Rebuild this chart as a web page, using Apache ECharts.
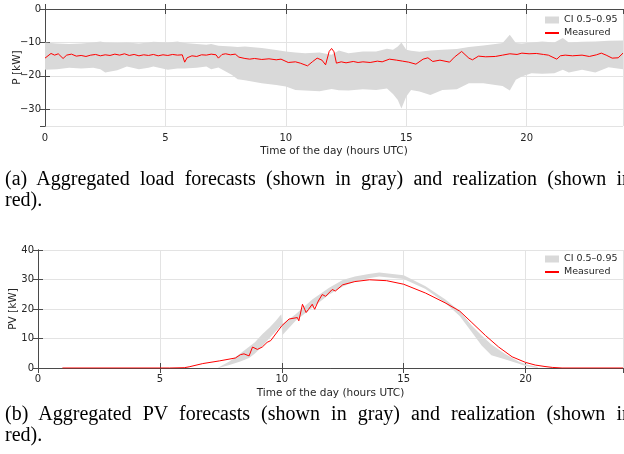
<!DOCTYPE html>
<html>
<head>
<meta charset="utf-8">
<script src="https://cdn.jsdelivr.net/npm/echarts@6/dist/echarts.min.js"></script>
<style>
html, body { margin: 0; padding: 0; background: #fff; }
#wrap { position: relative; width: 624px; height: 454px; overflow: hidden; }
#chart { position: absolute; left: 0; top: 0; width: 624px; height: 454px; }
.cap { position: absolute; left: 5px; width: 627px; font-family: "Liberation Serif", serif; font-size: 20px; line-height: 21px; color: #000; }
.cap .l1 { text-align: justify; text-align-last: justify; }
</style>
</head>
<body>
<div id="wrap">
  <div id="chart"></div>
  <div class="cap" style="top:168px">
    <div class="l1">(a) Aggregated load forecasts (shown in gray) and realization (shown in</div>
    <div>red).</div>
  </div>
  <div class="cap" style="top:403px">
    <div class="l1">(b) Aggregated PV forecasts (shown in gray) and realization (shown in</div>
    <div>red).</div>
  </div>
</div>
<script>
// load chart (kW, negative = consumption)
var loadBandHours = [0, 0.5, 1, 1.5, 2, 2.3, 2.5, 3, 3.4, 3.9, 4.3, 4.5, 5.1, 5.5, 5.8, 6.3, 6.7, 6.9, 7.2, 7.75,
    8, 8.3, 9, 9.6, 10, 10.4, 10.8, 11.4, 11.9, 12.2, 12.6, 13.2, 13.75, 14.2, 14.45, 14.65, 14.8, 15, 15.2, 15.55,
    16, 16.5, 17.1, 17.6, 18.2, 18.7, 19, 19.3, 19.55, 19.8, 20.2, 20.65, 21.15, 21.5, 21.75, 22.3, 22.85, 23.4, 24];
var loadUpper = [-10.0, -10.3, -10.5, -10.3, -10.0, -9.7, -10.0, -10.2, -10.0, -10.3, -10.0, -9.8, -10.0, -9.7, -10.2,
    -10.5, -10.7, -10.5, -11.0, -11.2, -11.4, -11.2, -11.7, -12.3, -12.7, -13.0, -13.2, -13.0, -13.7, -12.4,
    -13.2, -12.7, -12.7, -11.9, -12.2, -11.2, -10.0, -12.2, -12.5, -12.8, -12.4, -12.2, -12.0, -11.4, -10.9,
    -10.5, -10.2, -7.7, -10.2, -10.3, -10.0, -9.7, -10.0, -8.7, -10.0, -9.8, -9.7, -9.5, -9.4];
var loadLower = [-18.2, -18.0, -17.6, -17.8, -17.6, -18.0, -19.0, -18.3, -17.2, -18.0, -17.6, -17.2, -18.2, -17.8, -17.8,
    -17.6, -17.2, -18.0, -17.5, -19.7, -21.0, -21.3, -22.2, -22.7, -23.2, -24.2, -24.4, -24.6, -23.9, -24.3,
    -24.4, -24.0, -24.2, -23.8, -25.4, -27.2, -29.8, -26.2, -24.2, -24.7, -25.7, -24.2, -24.0, -22.2, -22.2,
    -22.7, -23.0, -24.4, -21.2, -20.2, -19.2, -19.4, -19.2, -18.2, -19.0, -18.2, -19.0, -17.4, -18.0];
var loadHours = [0, 0.25, 0.4, 0.55, 0.75, 0.9, 1.1, 1.3, 1.5, 1.7, 1.9, 2.1, 2.3, 2.5, 2.7, 2.9, 3.1, 3.3, 3.5, 3.7,
    3.9, 4.1, 4.3, 4.5, 4.7, 4.9, 5.1, 5.3, 5.5, 5.7, 5.8, 5.9, 6.1, 6.3, 6.5, 6.7, 6.9, 7.1, 7.2, 7.35,
    7.5, 7.7, 7.9, 8.05, 8.3, 8.5, 8.7, 9, 9.3, 9.6, 9.8, 10.1, 10.4, 10.6, 10.9, 11.1, 11.3, 11.5, 11.65, 11.8,
    11.9, 12, 12.1, 12.3, 12.5, 12.8, 13, 13.2, 13.5, 13.8, 14, 14.3, 14.6, 14.85, 15.1, 15.4, 15.7, 15.9, 16.1, 16.4,
    16.8, 17, 17.3, 17.6, 17.75, 18, 18.3, 18.7, 19, 19.3, 19.6, 19.8, 20.1, 20.4, 20.7, 20.9, 21.25, 21.4, 21.6, 21.9,
    22.3, 22.6, 22.9, 23.1, 23.3, 23.55, 23.8, 24];
var loadMeasured = [-14.7, -13.3, -13.8, -13.4, -14.8, -13.8, -13.5, -14.1, -13.9, -14.2, -13.8, -13.6, -14.0, -13.7, -13.9,
    -13.5, -13.8, -13.4, -13.9, -13.6, -14.0, -13.7, -13.9, -13.6, -14.0, -13.7, -13.9, -13.6, -13.8, -13.7,
    -15.9, -14.6, -14.0, -14.2, -13.7, -13.8, -13.5, -13.7, -14.7, -13.6, -13.4, -13.7, -13.5, -14.4, -14.8,
    -15.0, -14.8, -15.1, -14.9, -15.2, -15.0, -16.0, -15.8, -16.2, -17.0, -15.8, -14.7, -15.3, -16.7, -12.7,
    -11.8, -12.8, -16.2, -15.8, -16.1, -15.7, -16.0, -15.8, -16.0, -15.6, -15.8, -15.0, -15.3, -15.6, -15.9,
    -16.5, -15.0, -14.6, -15.7, -15.3, -15.9, -14.4, -12.7, -14.7, -15.2, -14.1, -14.3, -14.2, -13.8, -13.4,
    -13.6, -13.2, -13.4, -13.3, -13.6, -13.8, -15.0, -14.0, -13.8, -14.0, -13.8, -14.2, -13.7, -13.2, -13.8,
    -14.7, -14.6, -13.2];

// PV chart
var pvBandHours = [7.4, 7.85, 8.3, 8.66, 8.9, 9.2, 9.5, 9.75, 9.98, 10.03, 10.57, 11.25, 11.93, 12.5, 13, 13.57, 14,
    15, 15.9, 16.7, 17.3, 17.8, 18.2, 18.6, 19.15, 19.7, 20, 20.5];
var pvUpper = [0.2, 2.2, 4.9, 7.2, 8.7, 11.4, 13.7, 15.9, 18.2, 14.8, 18.2, 23.2, 27.1, 29.8, 31.0, 31.9, 32.4,
    31.4, 27.7, 23.3, 19.3, 14.3, 11.0, 8.0, 4.8, 2.3, 1.3, 0.3];
var pvLower = [0, 1.0, 2.2, 3.4, 4.9, 7.4, 10.2, 12.4, 14.4, 11.2, 16.0, 20.4, 24.8, 27.6, 29.3, 30.4, 31.0,
    30.2, 26.8, 22.1, 17.6, 12.1, 7.6, 4.3, 3.0, 1.5, 0.7, 0];
var pvHours = [1, 5.4, 6, 6.2, 6.76, 7.44, 8.1, 8.3, 8.45, 8.66, 8.8, 9, 9.2, 9.4, 9.55, 10, 10.3, 10.64, 10.7, 10.85,
    11, 11.1, 11.25, 11.35, 11.5, 11.66, 11.8, 12.07, 12.2, 12.5, 13, 13.6, 14.3, 15, 15.9, 16.7, 17.3, 17.8, 18.36, 18.9,
    19.45, 20, 20.4, 20.8, 21.1, 21.5, 24];
var pvMeasured = [0, 0, 0.1, 0.4, 1.5, 2.4, 3.4, 4.5, 4.8, 4.1, 7.1, 6.3, 7.1, 8.7, 9.3, 14.3, 16.6, 17.1, 16.0, 21.6,
    18.8, 19.9, 21.6, 19.9, 22.7, 24.9, 24.3, 26.6, 26.1, 28.2, 29.3, 29.9, 29.6, 28.4, 25.4, 22.1, 19.3, 15.4, 11.0, 7.1,
    3.8, 1.9, 1.0, 0.5, 0.2, 0, 0];

var ciName = "CI 0.5\u20130.95";
var font = "DejaVu Sans";
var textColor = "#262626";
var axisColor = "#4a4a4a";
var gridColor = "#e3e3e3";
var bandColor = "#d9d9d9";

function pairs(xs, ys) {
    return xs.map(function (x, i) { return [x, ys[i]]; });
}
function minusFmt(v) {
    return String(v).replace("-", "\u2212");
}

function xAxes(gridIndex, labelMargin) {
    return [
        {
            type: "value", gridIndex: gridIndex, position: "bottom", min: 0, max: 24, interval: 5,
            name: "Time of the day (hours UTC)", nameLocation: "middle", nameGap: 20, nameMoveOverlap: false,
            nameTextStyle: { fontFamily: font, fontSize: 10.5, color: textColor },
            axisLine: { lineStyle: { color: axisColor } },
            axisTick: { inside: true, length: 5, lineStyle: { color: axisColor } },
            axisLabel: { margin: labelMargin, fontFamily: font, fontSize: 10, color: textColor, showMaxLabel: false },
            splitLine: { show: true, lineStyle: { color: gridColor } },
        },
        {
            type: "value", gridIndex: gridIndex, position: "top", min: 0, max: 24, interval: 5,
            axisLine: { lineStyle: { color: axisColor } },
            axisTick: { inside: true, length: 5, lineStyle: { color: axisColor } },
            axisLabel: { show: false },
            splitLine: { show: false },
        },
    ];
}

function yAxes(gridIndex, cfg) {
    return [
        {
            type: "value", gridIndex: gridIndex, position: "left", min: cfg.min, max: cfg.max,
            interval: cfg.interval, splitNumber: cfg.splitNumber,
            name: cfg.name, nameLocation: "middle", nameGap: cfg.nameGap, nameMoveOverlap: false,
            nameTextStyle: { fontFamily: font, fontSize: 10.5, color: textColor },
            axisLine: { show: true, lineStyle: { color: axisColor } },
            axisTick: { show: true, inside: true, length: 5, lineStyle: { color: axisColor } },
            axisLabel: { margin: 4, fontFamily: font, fontSize: 10, color: textColor,
                showMinLabel: cfg.showMin, formatter: minusFmt },
            splitLine: { show: true, lineStyle: { color: gridColor } },
        },
        {
            type: "value", gridIndex: gridIndex, position: "right", min: cfg.min, max: cfg.max,
            interval: cfg.interval, splitNumber: cfg.splitNumber,
            axisLine: { show: true, lineStyle: { color: axisColor } },
            axisTick: { show: true, inside: true, length: 5, lineStyle: { color: axisColor } },
            axisLabel: { show: false },
            splitLine: { show: false },
        },
    ];
}

// confidence band: one polygon, upper edge forward then lower edge back
function bandSeries(idx, hours, lower, upper) {
    return {
        type: "custom", name: ciName, xAxisIndex: idx, yAxisIndex: idx,
        data: hours.map(function (h, i) { return [h, lower[i], upper[i]]; }),
        encode: { x: 0, y: [1, 2] },
        itemStyle: { color: bandColor },
        silent: true, z: 1,
        renderItem: function (params, api) {
            if (params.dataIndexInside !== 0) return null;
            var n = params.dataInsideLength;
            var pts = [];
            for (var i = 0; i < n; i++) pts.push(api.coord([api.value(0, i), api.value(2, i)]));
            for (var j = n - 1; j >= 0; j--) pts.push(api.coord([api.value(0, j), api.value(1, j)]));
            return { type: "polygon", shape: { points: pts }, style: { fill: bandColor } };
        },
    };
}

function measuredSeries(idx, hours, values) {
    return {
        type: "line", name: "Measured", xAxisIndex: idx, yAxisIndex: idx,
        data: pairs(hours, values), symbol: "none", color: "#ff0000",
        lineStyle: { width: 1, color: "#ff0000" }, z: 3,
    };
}

function legendAt(top) {
    return {
        data: [
            { name: ciName, icon: "rect" },
            { name: "Measured", itemStyle: { opacity: 0, color: "rgba(0,0,0,0)", borderWidth: 0 } },
        ],
        orient: "vertical", left: 544, top: top, padding: 0, itemGap: 1,
        itemWidth: 14, itemHeight: 7, selectedMode: false,
        textStyle: { fontFamily: font, fontSize: 9.5, color: textColor, lineHeight: 12 },
    };
}

var myChart = echarts.init(document.getElementById("chart"), null, { renderer: "canvas" });

var option = {
    animation: false,
    backgroundColor: "#fff",
    grid: [
        { left: 45, right: 1, top: 9, height: 117, outerBoundsMode: "none" },
        { left: 38, right: 1, top: 250, height: 118, outerBoundsMode: "none" },
    ],
    legend: [legendAt(14), legendAt(253)],
    xAxis: xAxes(0, 7).concat(xAxes(1, 6)),
    yAxis: yAxes(0, { min: -35, max: 0, splitNumber: 4, name: "P [kW]", nameGap: 22, showMin: false })
        .concat(yAxes(1, { min: 0, max: 40, interval: 10, name: "PV [kW]", nameGap: 19, showMin: true })),
    series: [
        bandSeries(0, loadBandHours, loadLower, loadUpper),
        measuredSeries(0, loadHours, loadMeasured),
        bandSeries(2, pvBandHours, pvLower, pvUpper),
        measuredSeries(2, pvHours, pvMeasured),
    ],
};
myChart.setOption(option);
</script>
</body>
</html>
